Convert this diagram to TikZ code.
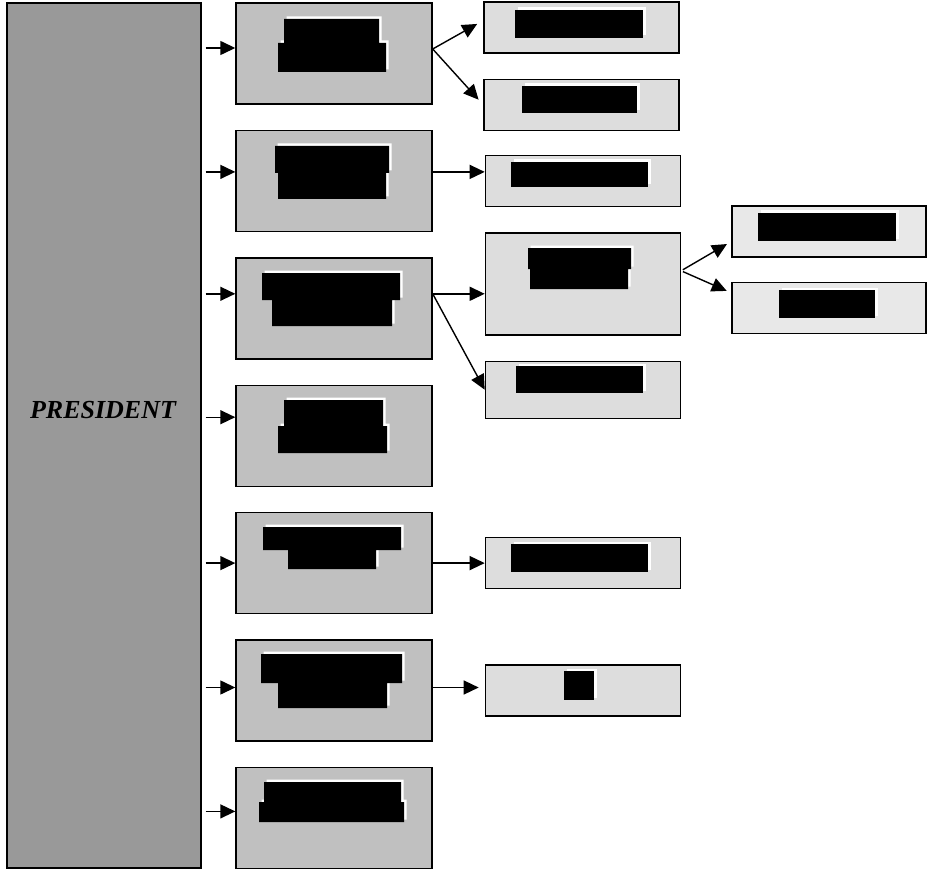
\documentclass[tikz,border=0pt]{standalone}
\usepackage{fontspec}
\setmainfont{Liberation Serif}
\usetikzlibrary{arrows.meta, positioning}
\usepackage{xcolor}
\definecolor{presgray}{RGB}{153,153,153}
\definecolor{deptgray}{RGB}{192,192,192}
\definecolor{unitgray}{RGB}{221,221,221}
\definecolor{subgray}{RGB}{232,232,232}

\newcommand{\blackout}[1]{\fill[glare] #1; \fill[bar] #1;}

\begin{document}
\begin{tikzpicture}[
  x=1pt, y=-1pt,
  node distance=25pt,
  boxline/.style={rectangle, draw=black, line width=1.4pt, inner sep=0pt},
  presbox/.style={boxline, fill=presgray, minimum width=194pt, minimum height=865pt},
  deptbox/.style={boxline, fill=deptgray, minimum width=196pt, minimum height=101pt},
  unitbox/.style={boxline, fill=unitgray, minimum width=195pt, minimum height=51pt},
  subbox/.style={boxline, fill=subgray, minimum width=194pt, minimum height=51pt},
  bar/.style={fill=black},
  glare/.style={fill=white, xshift=2.5pt, yshift=2.5pt},
  arr/.style={-{Triangle[length=15pt, width=14pt]}, line width=1.4pt}
]
\useasboundingbox (0,0) rectangle (927,872);

\node[presbox] (pres) at (104,435.5) {};
\node[font=\fontsize{26}{30}\selectfont\bfseries\itshape] (prestitle) at (103,410) {PRESIDENT};

\node[deptbox] (b1) at (334,53.5) {};
\node[deptbox, below=of b1] (b2) {};
\node[deptbox, below=of b2] (b3) {};
\node[deptbox, below=of b3] (b4) {};
\node[deptbox, below=of b4] (b5) {};
\node[deptbox, below=of b5] (b6) {};
\node[deptbox, below=of b6] (b7) {};

\node[unitbox] (c1) at (581.5,27.5) {};
\node[unitbox, below=of c1] (c2) {};
\node[unitbox, right=52pt of b2] (c3) {};
\node[unitbox, below=of c3, minimum height=102pt] (c4) {};
\node[unitbox, below=of c4, minimum height=57pt] (c5) {};
\node[unitbox, right=52pt of b5] (c6) {};
\node[unitbox, right=52pt of b6] (c7) {};

\node[subbox] (d1) at (829,231.5) {};
\node[subbox, below=24pt of d1] (d2) {};

\draw[arr, shorten <=4pt] ([yshift=5.5pt]b1.west -| pres.east) -- ([yshift=5.5pt]b1.west);
\draw[arr, shorten <=4pt] ([yshift=9pt]b2.west -| pres.east) -- ([yshift=9pt]b2.west);
\draw[arr, shorten <=4pt] ([yshift=14.5pt]b3.west -| pres.east) -- ([yshift=14.5pt]b3.west);
\draw[arr, shorten <=4pt] ([yshift=18.5pt]b4.west -| pres.east) -- ([yshift=18.5pt]b4.west);
\draw[arr, shorten <=4pt] (b5.west -| pres.east) -- (b5.west);
\draw[arr, shorten <=4pt] ([yshift=3pt]b6.west -| pres.east) -- ([yshift=3pt]b6.west);
\draw[arr, shorten <=4pt] ([yshift=6.5pt]b7.west -| pres.east) -- ([yshift=6.5pt]b7.west);

\draw[arr, shorten >=7pt] ([yshift=4.5pt]b1.east) -- ([yshift=7pt]c1.west);
\draw[arr, shorten >=7pt] ([yshift=4.5pt]b1.east) -- (c2.west);
\draw[arr] ([yshift=9pt]b2.east) -- ([yshift=9pt]b2.east -| c3.west);
\draw[arr] ([yshift=14.5pt]b3.east) -- ([yshift=14.5pt]b3.east -| c4.west);
\draw[arr] ([yshift=14.5pt]b3.east) -- (c5.west);
\draw[arr, shorten <=2pt, shorten >=5pt] ([yshift=13pt]c4.east) -- ([yshift=-10pt]d1.west);
\draw[arr, shorten <=2pt, shorten >=5pt] ([yshift=13pt]c4.east) -- ([yshift=15pt]d2.west);
\draw[arr] (b5.east) -- (b5.east -| c6.west);
\draw[arr, shorten >=6pt] ([yshift=3pt]b6.east) -- ([yshift=3pt]b6.east -| c7.west);

% blacked-out names
\blackout{(284,19) rectangle (379,43) (278,43) rectangle (386,72)}
\blackout{(275,146) rectangle (389,173) (278,173) rectangle (386,199)}
\blackout{(262,273) rectangle (400,300) (272,300) rectangle (392,326)}
\blackout{(284,400) rectangle (383,426) (278,426) rectangle (387,453)}
\blackout{(263,527) rectangle (401,550) (288,550) rectangle (376,569)}
\blackout{(261,654) rectangle (402,683) (278,683) rectangle (387,708)}
\blackout{(264,782) rectangle (401,802) (259,802) rectangle (404,822)}
\blackout{(515,10) rectangle (643,38)}
\blackout{(522,86) rectangle (637,113)}
\blackout{(511,162) rectangle (648,187)}
\blackout{(528,248) rectangle (631,269) (530,269) rectangle (628,289)}
\blackout{(516,366) rectangle (643,393)}
\blackout{(511,544) rectangle (648,572)}
\blackout{(564,671) rectangle (594,700)}
\blackout{(758,213) rectangle (896,241)}
\blackout{(779,290) rectangle (875,318)}

\end{tikzpicture}
\end{document}
